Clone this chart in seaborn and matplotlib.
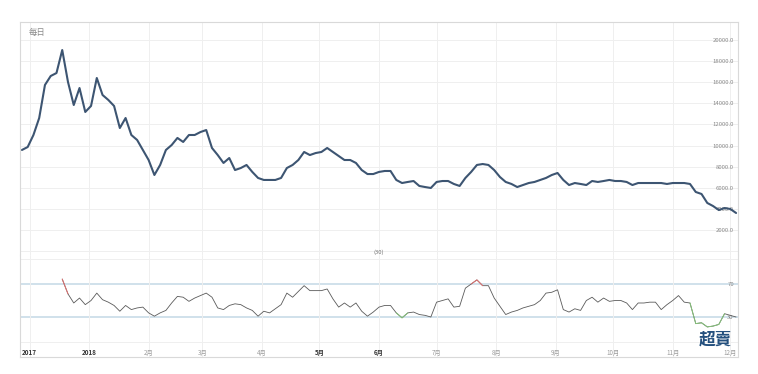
import matplotlib

matplotlib.use("Agg")
import matplotlib.pyplot as plt
import numpy as np
import pandas as pd
import seaborn as sns

# 3-day samples, 2017-11-27 .. 2018-12-04
start_date = "2017-11-27"
price = [
    9580, 9860, 11000, 12610, 15740, 16590, 16870, 19050, 16020, 13840,
    15450, 13180, 13750, 16400, 14790, 14320, 13750, 11660, 12610, 11000,
    10530, 9580, 8630, 7210, 8160, 9580, 10050, 10720, 10340, 11000,
    11000, 11280, 11470, 9770, 9100, 8350, 8820, 7680, 7870, 8160,
    7500, 6930, 6740, 6740, 6740, 6930, 7870, 8160, 8630, 9390,
    9100, 9290, 9390, 9770, 9390, 9010, 8630, 8630, 8350, 7680,
    7300, 7300, 7500, 7590, 7590, 6740, 6450, 6550, 6640, 6170,
    6070, 5980, 6550, 6640, 6640, 6360, 6170, 6930, 7500, 8160,
    8250, 8160, 7680, 7020, 6550, 6360, 6070, 6260, 6450, 6550,
    6740, 6930, 7210, 7400, 6740, 6260, 6450, 6360, 6260, 6640,
    6550, 6640, 6740, 6640, 6640, 6550, 6260, 6450, 6450, 6450,
    6450, 6450, 6360, 6450, 6450, 6450, 6360, 5600, 5410, 4560,
    4270, 3890, 4080, 3990, 3610,
]
rsi = [
    np.nan, np.nan, np.nan, np.nan, np.nan, np.nan, np.nan, 76, 58, 47,
    53, 45, 50, 59, 51, 48, 44, 37, 44, 39,
    41, 42, 35, 31, 35, 38, 47, 55, 54, 49,
    53, 56, 59, 54, 41, 39, 44, 46, 45, 41,
    38, 31, 37, 35, 40, 45, 59, 54, 61, 68,
    62, 62, 62, 64, 52, 42, 47, 42, 47, 37,
    31, 36, 42, 44, 44, 35, 29, 35, 36, 33,
    32, 30, 48, 50, 52, 42, 43, 65, 70, 75,
    68, 68, 53, 43, 33, 36, 38, 41, 43, 45,
    50, 59, 60, 63, 39, 36, 40, 38, 50, 54,
    48, 53, 49, 50, 50, 47, 39, 47, 47, 48,
    48, 39, 45, 50, 56, 48, 47, 22, 23, 18,
    19, 21, 34, 32, 30,
]
tick_dates = [
    "2017-12-01", "2018-01-01", "2018-02-01", "2018-03-01", "2018-04-01",
    "2018-05-01", "2018-06-01", "2018-07-01", "2018-08-01", "2018-09-01",
    "2018-10-01", "2018-11-01", "2018-12-01",
]
tick_labels = ["2017", "2018", "2月", "3月", "4月", "5月", "6月",
               "7月", "8月", "9月", "10月", "11月", "12月"]
dark_ticks = ["2017", "2018", "5月", "6月"]
price_ticks = list(range(2000, 20001, 2000))

df = pd.DataFrame({
    "date": pd.date_range(start_date, periods=len(price), freq="3D"),
    "price": price,
    "rsi": rsi,
})
over = df["rsi"] > 70
under = df["rsi"] < 30
df["rsi_hi"] = df["rsi"].where(over | over.shift(1, fill_value=False) | over.shift(-1, fill_value=False))
df["rsi_lo"] = df["rsi"].where(under | under.shift(1, fill_value=False) | under.shift(-1, fill_value=False))

sns.set_theme(style="white")
plt.rcParams["font.family"] = ["Noto Sans CJK TC", "DejaVu Sans"]

W, H = 758, 374
fig = plt.figure(figsize=(W / 100, H / 100), dpi=100)
left, right = 20 / W, 738 / W
ax = fig.add_axes([left, 1 - 255 / H, right - left, (255 - 22) / H])
ax2 = fig.add_axes([left, 1 - 357 / H, right - left, (357 - 255) / H], sharex=ax)

frame = "#d9d9d9"
grid = "#efefef"
xmin, xmax = pd.Timestamp("2017-11-26"), pd.Timestamp("2018-12-05")
ticks = pd.to_datetime(tick_dates)

# price panel
sns.lineplot(data=df, x="date", y="price", ax=ax, color="#3d5572", linewidth=1.5)
ax.set_ylim(-370, 21705)
ax.set_xlim(xmin, xmax)
ax.set_yticks(price_ticks)
ax.set_yticklabels([f"{v:.1f}" for v in price_ticks])
ax.yaxis.tick_right()
ax.tick_params(axis="y", length=0, pad=-3, labelsize=4.3, labelcolor="#8a8a8a")
for lab in ax.get_yticklabels():
    lab.set_ha("right")
ax.grid(True, color=grid, linewidth=0.7)
ax.axhline(0, color=grid, linewidth=0.7, zorder=0)
ax.set_xlabel("")
ax.set_ylabel("")
ax.tick_params(axis="x", labelbottom=False, length=0)
for side in ["top", "left", "right"]:
    ax.spines[side].set_color(frame)
    ax.spines[side].set_linewidth(0.8)
ax.spines["bottom"].set_visible(False)
ax.text(0.012, 0.955, "每日", transform=ax.transAxes, fontsize=6, color="#8a8a8a",
        ha="left", va="center")

# RSI panel
sns.lineplot(data=df, x="date", y="rsi", ax=ax2, color="#5a5a5a", linewidth=0.6)
# overlays break at NaN, so plot them straight on the axes
ax2.plot(df["date"], df["rsi_hi"], color="#e07070", linewidth=0.7)
ax2.plot(df["date"], df["rsi_lo"], color="#86c47a", linewidth=0.7)
ax2.set_ylim(-18.5, 105.2)
ax2.set_xlim(xmin, xmax)
ax2.axhline(70, color="#c3d9e6", linewidth=1.1, zorder=0)
ax2.axhline(30, color="#c3d9e6", linewidth=1.1, zorder=0)
ax2.axhline(100, color=grid, linewidth=0.7, zorder=0)
ax2.axhline(0, color=grid, linewidth=0.7, zorder=0)
for t in ticks:
    ax2.axvline(t, color=grid, linewidth=0.7, zorder=0)
ax2.set_yticks([70, 30])
ax2.set_yticklabels(["70", "30"])
ax2.yaxis.tick_right()
ax2.tick_params(axis="y", length=0, pad=-3, labelsize=4.3, labelcolor="#8a8a8a")
for lab in ax2.get_yticklabels():
    lab.set_ha("right")
ax2.set_xticks(ticks)
ax2.set_xticklabels(tick_labels)
ax2.tick_params(axis="x", length=0, pad=-6, labelsize=4.5, labelcolor="#9a9a9a")
for lab in ax2.get_xticklabels():
    if lab.get_text() in dark_ticks:
        lab.set_color("#333333")
        lab.set_fontweight("bold")
ax2.set_xlabel("")
ax2.set_ylabel("")
for side in ["bottom", "left", "right"]:
    ax2.spines[side].set_color(frame)
    ax2.spines[side].set_linewidth(0.8)
ax2.spines["top"].set_visible(False)
ax2.text(0.5, 1.03, "(30)", transform=ax2.transAxes, fontsize=4.3, color="#777777",
         ha="center", va="center")
ax2.text(0.969, 0.167, "超賣", transform=ax2.transAxes, fontsize=12, fontweight="bold",
         color="#24507e", ha="center", va="center")

fig.savefig("out.png", dpi=100, facecolor="white")
